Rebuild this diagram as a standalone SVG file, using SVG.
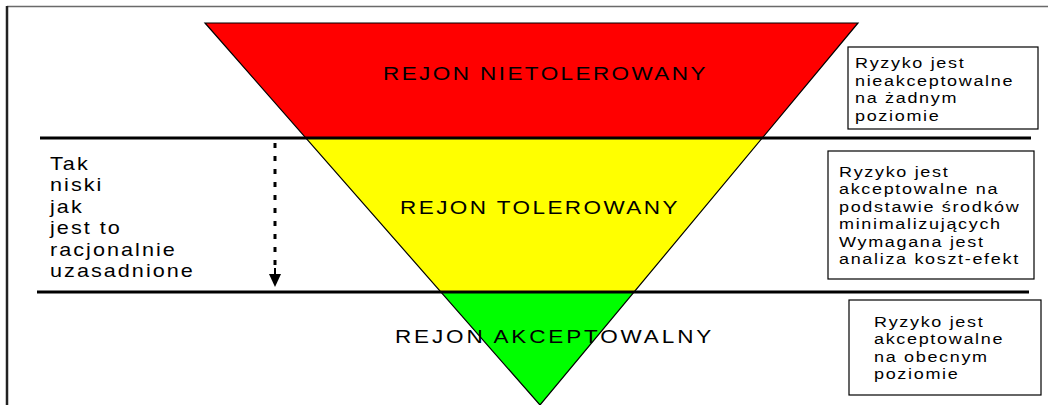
<svg xmlns="http://www.w3.org/2000/svg" width="1048" height="405" viewBox="0 0 1048 405">
<defs>
<style>
.t{font-family:"Liberation Sans",Arial,sans-serif;fill:#000}
.lbl{font-size:18px}
.box{fill:#fff;stroke:#000;stroke-width:1.2}
.bt{font-size:15px;letter-spacing:1.4px}
.lt{font-size:18px;letter-spacing:1.7px}
.band{stroke:none}
.sep{stroke:#000;stroke-width:3}
</style>
</defs>
<rect width="1048" height="405" fill="#fff"/>
<g id="frame">
<line x1="7" y1="6.5" x2="1048" y2="6.5" stroke="#6a6a6a" stroke-width="1.5"/>
<line x1="7" y1="6" x2="7" y2="405" stroke="#222" stroke-width="2.5"/>
</g>
<g id="triangle">
<g id="red-region">
<polygon class="band" fill="#ff0000" points="205,23 858,23 762.3,138 305.9,138"/>
<g transform="translate(383,0) scale(1.25,1)"><text class="t lbl" x="0" y="80" textLength="258" lengthAdjust="spacing">REJON NIETOLEROWANY</text></g>
</g>
<g id="yellow-region">
<polygon class="band" fill="#ffff00" points="305.9,138 762.3,138 634.1,292 440.9,292"/>
<g transform="translate(400,0) scale(1.25,1)"><text class="t lbl" x="0" y="214" textLength="222" lengthAdjust="spacing">REJON TOLEROWANY</text></g>
</g>
<g id="green-region">
<polygon class="band" fill="#00ff00" points="440.9,292 634.1,292 540,405"/>
</g>
<polygon points="205,23 858,23 540,405" fill="none" stroke="#000" stroke-width="1.2"/>
<g transform="translate(395,0) scale(1.25,1)"><text class="t lbl" x="0" y="343" textLength="253" lengthAdjust="spacing">REJON AKCEPTOWALNY</text></g>
</g>
<g id="connectors">
<line class="sep" x1="40" y1="138" x2="1031" y2="138"/>
<line class="sep" x1="37" y1="292" x2="1029" y2="292"/>
<line x1="275" y1="143" x2="275" y2="272" stroke="#000" stroke-width="3" stroke-dasharray="5 8"/>
<polygon points="269,274 281,274 275,287" fill="#000"/>
<line x1="275" y1="268" x2="275" y2="280" stroke="#000" stroke-width="2"/>
</g>
<g id="left-note" transform="translate(50,0) scale(1.2,1)">
<text class="t lt" x="0" y="170">Tak</text>
<text class="t lt" x="0" y="191.5">niski</text>
<text class="t lt" x="0" y="213">jak</text>
<text class="t lt" x="0" y="234.5">jest to</text>
<text class="t lt" x="0" y="256">racjonalnie</text>
<text class="t lt" x="0" y="277.5">uzasadnione</text>
</g>
<g id="box-unacceptable">
<rect class="box" x="848" y="47" width="190" height="82"/>
<g transform="translate(855,0) scale(1.2,1)">
<text class="t bt" x="0" y="68">Ryzyko jest</text>
<text class="t bt" x="0" y="86">nieakceptowalne</text>
<text class="t bt" x="0" y="103.5">na żadnym</text>
<text class="t bt" x="0" y="121">poziomie</text>
</g>
</g>
<g id="box-tolerable">
<rect class="box" x="828" y="151" width="206" height="128"/>
<g transform="translate(839,0) scale(1.2,1)">
<text class="t bt" x="0" y="177">Ryzyko jest</text>
<text class="t bt" x="0" y="194.5">akceptowalne na</text>
<text class="t bt" x="0" y="212">podstawie środków</text>
<text class="t bt" x="0" y="229.5">minimalizujących</text>
<text class="t bt" x="0" y="247">Wymagana jest</text>
<text class="t bt" x="0" y="264.5">analiza koszt-efekt</text>
</g>
</g>
<g id="box-acceptable">
<rect class="box" x="849" y="300" width="192" height="95"/>
<g transform="translate(874,0) scale(1.2,1)">
<text class="t bt" x="0" y="327">Ryzyko jest</text>
<text class="t bt" x="0" y="344.5">akceptowalne</text>
<text class="t bt" x="0" y="362">na obecnym</text>
<text class="t bt" x="0" y="379.5">poziomie</text>
</g>
</g>
</svg>
